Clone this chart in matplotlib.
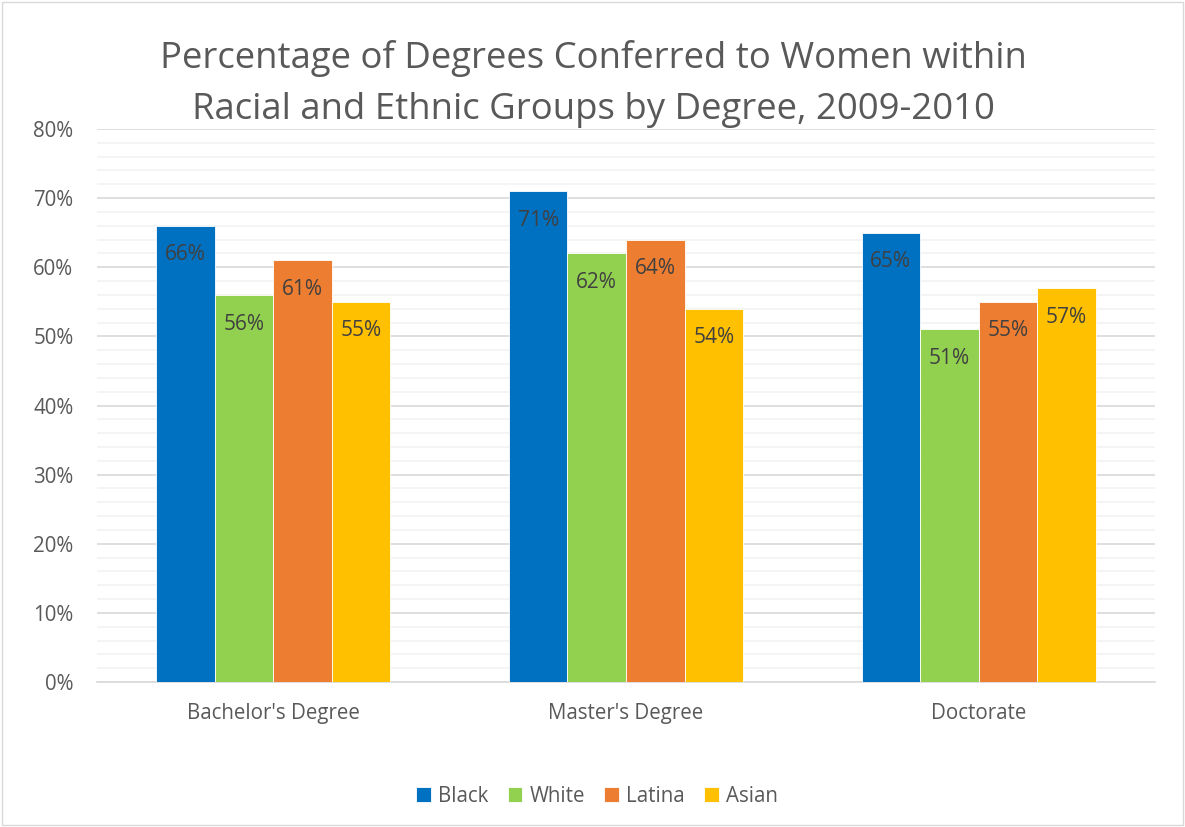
import matplotlib
matplotlib.use("Agg")
import matplotlib.pyplot as plt
import numpy as np
from matplotlib.patches import Rectangle

categories = ["Bachelor's Degree", "Master's Degree", "Doctorate"]
series_names = ["Black", "White", "Latina", "Asian"]
black = [66, 71, 65]
white = [56, 62, 51]
latina = [61, 64, 55]
asian = [55, 54, 57]
colors = ["#0070C0", "#92D050", "#ED7D31", "#FFC000"]
title = "Percentage of Degrees Conferred to Women within\nRacial and Ethnic Groups by Degree, 2009-2010"

plt.rcParams['font.family'] = ['Open Sans', 'DejaVu Sans']

fig = plt.figure(figsize=(11.85, 8.27), dpi=100)
ax = fig.add_axes([97/1185, 1-682/827, (1155-97)/1185, (682-129)/827])

data = [black, white, latina, asian]
x = np.arange(len(categories))
bw = 0.166
for i, (name, vals, c) in enumerate(zip(series_names, data, colors)):
    pos = x + (i - 1.5) * bw
    ax.bar(pos, vals, width=bw, color=c, edgecolor='white', linewidth=0.6, label=name, zorder=3)
    for p, v in zip(pos, vals):
        ax.text(p, v - 2.7, f"{v}%", ha='center', va='top', fontsize=15, color='#404040', zorder=4)

ax.set_xlim(-0.5, 2.5)
ax.set_ylim(0, 80)
ax.set_yticks(np.arange(0, 81, 10))
ax.set_yticklabels([f"{t}%" for t in range(0, 81, 10)])
ax.set_yticks(np.arange(0, 81, 2), minor=True)
ax.grid(axis='y', which='major', color='#D9D9D9', linewidth=1.2, zorder=0)
ax.grid(axis='y', which='minor', color='#F2F2F2', linewidth=1.2, zorder=0)
ax.set_xticks(x)
ax.set_xticklabels(categories)
ax.tick_params(axis='both', which='both', length=0, labelsize=14.8, labelcolor='#595959')
ax.tick_params(axis='x', pad=15)
ax.tick_params(axis='y', pad=17)
for s in ['top', 'right', 'left']:
    ax.spines[s].set_visible(False)
ax.spines['bottom'].set_color('#D9D9D9')
ax.spines['bottom'].set_linewidth(1.2)

fig.text(593/1185, 1-84/827, title, ha='center', va='center', fontsize=26.3, color='#595959', linespacing=1.52)

leg = fig.legend(loc='center', bbox_to_anchor=(597/1185, 1-796/827), ncol=4, frameon=False,
                 fontsize=14.8, labelcolor='#595959', handlelength=0.7, handleheight=0.7,
                 handletextpad=0.35, columnspacing=0.95)

fig.patches.append(Rectangle((2/1185, 2/827), 1-4/1185, 1-4/827, transform=fig.transFigure,
                             fill=False, edgecolor='#D9D9D9', linewidth=1))

fig.savefig("out.png", dpi=100)
